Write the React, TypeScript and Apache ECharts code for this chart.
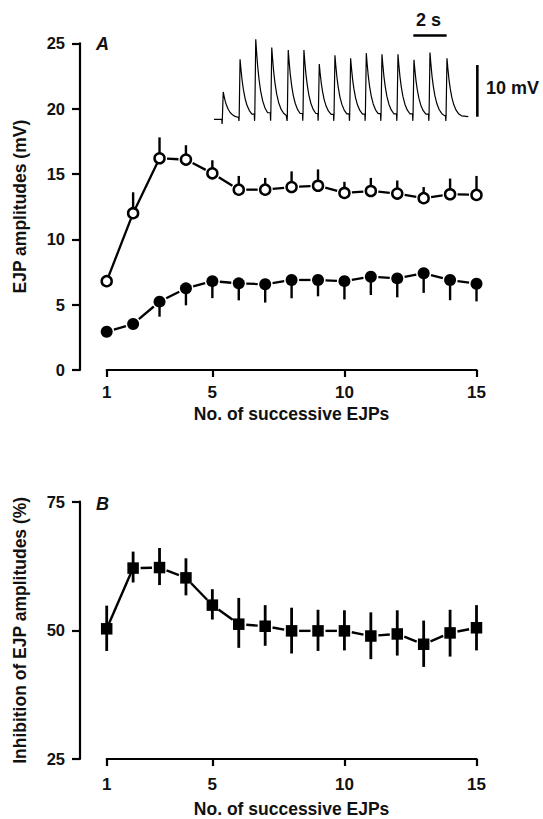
import React, { useEffect, useRef } from "react";
import * as echarts from "echarts";

// ---------- data ----------
const pulseNumbers = [1, 2, 3, 4, 5, 6, 7, 8, 9, 10, 11, 12, 13, 14, 15];
const xTickValues = [1, 5, 10, 15];

// Panel A: EJP amplitudes (mV)
const openMean = [6.8, 12.0, 16.2, 16.1, 15.05, 13.8, 13.8, 14.0, 14.1, 13.55, 13.7, 13.5, 13.15, 13.45, 13.4];
const openSem = [0.3, 1.6, 1.6, 1.1, 1.0, 1.05, 0.9, 1.2, 1.25, 0.85, 1.0, 1.0, 0.85, 1.2, 1.45];
const filledMean = [2.93, 3.52, 5.23, 6.25, 6.8, 6.63, 6.56, 6.89, 6.89, 6.8, 7.14, 7.01, 7.4, 6.89, 6.6];
const filledSem = [0.2, 0.3, 1.15, 1.3, 1.3, 1.3, 1.4, 1.4, 1.25, 1.4, 1.4, 1.45, 1.5, 1.55, 1.35];
const aYTicks = [0, 25, 5]; // min, max, interval

// Panel B: inhibition (%)
const inhibMean = [50.3, 62.1, 62.2, 60.2, 54.9, 51.2, 50.8, 49.9, 49.9, 49.9, 48.9, 49.3, 47.3, 49.5, 50.5];
const inhibUpper = [54.8, 65.3, 66.0, 64.0, 58.0, 56.3, 54.9, 54.4, 54.0, 53.9, 53.5, 53.9, 51.9, 54.0, 54.9];
const inhibLower = [46.0, 59.3, 58.8, 56.8, 52.1, 46.6, 47.0, 45.5, 46.0, 46.1, 44.4, 45.1, 42.9, 44.9, 46.1];
const bYTicks = [25, 75, 25];

// Inset trace (s, mV)
const spikePeakTimes = [0.56, 1.58, 2.53, 3.5, 4.5, 5.45, 6.38, 7.33, 8.28, 9.23, 10.18, 11.15, 12.12, 13.09, 14.12];
const spikeAmps = [5.1, 11.4, 15.3, 13.7, 13.2, 13.2, 10.5, 12.2, 11.6, 12.6, 12.4, 12.4, 11.3, 12.7, 11.6];
const decayOffsets = [0.05, 0.12, 0.2, 0.3, 0.42, 0.56, 0.72, 0.88];
const decayFractions = [0.84, 0.65, 0.49, 0.34, 0.22, 0.13, 0.07, 0.04];
const traceStartEnd = [0, 15.41];
const timeBar = [12.08, 14.1, 16.0]; // start, end, level (mV)
const voltBar = [15.96, 0.3, 10.3]; // time, bottom, top

// ---------- build helpers ----------
function buildTrace(): number[][] {
  const pts: number[][] = [[traceStartEnd[0], -0.2]];
  spikePeakTimes.forEach((t, i) => {
    const onset = t - 0.07;
    const prev = pts[pts.length - 1][1];
    pts.push([onset - 0.02, prev]);
    pts.push([onset, i === 0 ? -1.1 : -0.5]);
    pts.push([onset + 0.015, prev]);
    pts.push([t, spikeAmps[i]]);
    const next = i < spikePeakTimes.length - 1 ? spikePeakTimes[i + 1] - 0.1 : traceStartEnd[1];
    decayOffsets.forEach((o, k) => {
      if (t + o < next) pts.push([t + o, spikeAmps[i] * decayFractions[k]]);
    });
  });
  pts.push([traceStartEnd[1], 0.3]);
  return pts;
}

const FONT = "'Liberation Sans', Arial, Helvetica, sans-serif";

function errorBarSeries(x: number, y: number, data: number[][], width: number) {
  return {
    type: "custom",
    xAxisIndex: x,
    yAxisIndex: y,
    clip: false,
    z: 2,
    data,
    encode: { x: 0, y: [1, 2] },
    renderItem: (_p: any, api: any) => {
      const a = api.coord([api.value(0), api.value(1)]);
      const b = api.coord([api.value(0), api.value(2)]);
      return {
        type: "line",
        shape: { x1: a[0], y1: a[1], x2: b[0], y2: b[1] },
        style: { stroke: "#000", lineWidth: width },
      };
    },
  };
}

function connectorSeries(x: number, y: number, means: number[], solid: number[], width: number) {
  const data = means.slice(0, -1).map((m, i) => [
    pulseNumbers[i],
    m,
    pulseNumbers[i + 1],
    means[i + 1],
    solid.indexOf(i) >= 0 ? 0 : 7.5,
  ]);
  return {
    type: "custom",
    xAxisIndex: x,
    yAxisIndex: y,
    clip: false,
    z: 1,
    data,
    encode: { x: [0, 2], y: [1, 3] },
    renderItem: (_p: any, api: any) => {
      const a = api.coord([api.value(0), api.value(1)]);
      const b = api.coord([api.value(2), api.value(3)]);
      const g = api.value(4);
      const dx = b[0] - a[0];
      const dy = b[1] - a[1];
      const len = Math.sqrt(dx * dx + dy * dy) || 1;
      const ux = dx / len;
      const uy = dy / len;
      return {
        type: "line",
        shape: { x1: a[0] + ux * g, y1: a[1] + uy * g, x2: b[0] - ux * g, y2: b[1] - uy * g },
        style: { stroke: "#000", lineWidth: width },
      };
    },
  };
}

function xAxisCfg(grid: number, labelMargin: number, nameGap: number) {
  return {
    gridIndex: grid,
    type: "value",
    min: pulseNumbers[0],
    max: pulseNumbers[pulseNumbers.length - 1],
    position: "bottom",
    name: "No. of successive EJPs",
    nameLocation: "middle",
    nameGap,
    nameTextStyle: { fontFamily: FONT, fontSize: 17.5, fontWeight: "bold", color: "#111" },
    axisLine: { show: true, onZero: false, lineStyle: { color: "#000", width: 2.2 } },
    axisTick: { show: true, length: 7, customValues: xTickValues, lineStyle: { color: "#000", width: 2.2 } },
    axisLabel: { customValues: xTickValues, margin: labelMargin, fontFamily: FONT, fontSize: 17, fontWeight: "bold", color: "#111" },
    splitLine: { show: false },
  };
}

function yAxisCfg(grid: number, ticks: number[], name: string, nameGap: number) {
  return {
    gridIndex: grid,
    type: "value",
    min: ticks[0],
    max: ticks[1],
    interval: ticks[2],
    offset: 26.7,
    name,
    nameLocation: "middle",
    nameGap,
    nameRotate: 90,
    nameTextStyle: { fontFamily: FONT, fontSize: 17.5, fontWeight: "bold", color: "#111" },
    axisLine: { show: true, lineStyle: { color: "#000", width: 2.2 } },
    axisTick: { show: true, length: 8, lineStyle: { color: "#000", width: 2.2 } },
    axisLabel: { margin: 15, fontFamily: FONT, fontSize: 16.5, fontWeight: "bold", color: "#111" },
    splitLine: { show: false },
  };
}

export default function App() {
  const ref = useRef<HTMLDivElement>(null);
  useEffect(() => {
    if (!ref.current) return;
    const chart = echarts.init(ref.current, undefined, { renderer: "svg" });
    const option: any = {
      animation: false,
      backgroundColor: "#fff",
      grid: [
        { left: 106.7, right: 66.5, top: 43.3, height: 326.7 },
        { left: 106.7, right: 66.5, top: 501.7, height: 261.6 },
        { left: 214, width: 264, top: 14.9, height: 113.7 },
      ],
      xAxis: [
        xAxisCfg(0, 14, 35),
        xAxisCfg(1, 17, 41),
        { gridIndex: 2, type: "value", min: 0, max: 16, show: false },
      ],
      yAxis: [
        yAxisCfg(0, aYTicks, "EJP amplitudes (mV)", 51),
        yAxisCfg(1, bYTicks, "Inhibition of EJP amplitudes (%)", 51),
        { gridIndex: 2, type: "value", min: -2, max: 20, show: false },
      ],
      series: [
        // Panel A connectors
        connectorSeries(0, 0, openMean, [0, 1], 2.3),
        connectorSeries(0, 0, filledMean, [], 2.3),
        // Panel A error bars
        errorBarSeries(0, 0, pulseNumbers.map((n, i) => [n, openMean[i], openMean[i] + openSem[i]]), 2.4),
        errorBarSeries(0, 0, pulseNumbers.map((n, i) => [n, filledMean[i], filledMean[i] - filledSem[i]]), 2.4),
        {
          type: "scatter",
          xAxisIndex: 0,
          yAxisIndex: 0,
          z: 5,
          symbol: "circle",
          symbolSize: 10,
          itemStyle: { color: "#fff", borderColor: "#000", borderWidth: 2.5, opacity: 1 },
          data: pulseNumbers.map((n, i) => [n, openMean[i]]),
        },
        {
          type: "scatter",
          xAxisIndex: 0,
          yAxisIndex: 0,
          z: 5,
          symbol: "circle",
          symbolSize: 12,
          itemStyle: { color: "#000", opacity: 1 },
          data: pulseNumbers.map((n, i) => [n, filledMean[i]]),
        },
        // Panel B
        connectorSeries(1, 1, inhibMean, [0], 2.4),
        errorBarSeries(1, 1, pulseNumbers.map((n, i) => [n, inhibLower[i], inhibUpper[i]]), 2.8),
        {
          type: "scatter",
          xAxisIndex: 1,
          yAxisIndex: 1,
          z: 5,
          symbol: "rect",
          symbolSize: 11.5,
          itemStyle: { color: "#000", opacity: 1 },
          data: pulseNumbers.map((n, i) => [n, inhibMean[i]]),
        },
        // Inset trace
        {
          type: "line",
          xAxisIndex: 2,
          yAxisIndex: 2,
          showSymbol: false,
          symbol: "none",
          smooth: false,
          clip: false,
          lineStyle: { color: "#000", width: 1.2 },
          data: buildTrace(),
        },
        {
          type: "line",
          xAxisIndex: 2,
          yAxisIndex: 2,
          symbol: "none",
          clip: false,
          lineStyle: { color: "#000", width: 2.6 },
          data: [[timeBar[0], timeBar[2]], [timeBar[1], timeBar[2]]],
        },
        {
          type: "line",
          xAxisIndex: 2,
          yAxisIndex: 2,
          symbol: "none",
          clip: false,
          lineStyle: { color: "#000", width: 2.6 },
          data: [[voltBar[0], voltBar[1]], [voltBar[0], voltBar[2]]],
        },
      ],
      graphic: [
        { type: "text", x: 96, y: 44, style: { text: "A", fontFamily: FONT, fontSize: 18, fontWeight: "bold", fontStyle: "italic", fill: "#111", verticalAlign: "middle" } },
        { type: "text", x: 96, y: 504, style: { text: "B", fontFamily: FONT, fontSize: 18, fontWeight: "bold", fontStyle: "italic", fill: "#111", verticalAlign: "middle" } },
        { type: "text", x: 428.5, y: 20, style: { text: "2 s", fontFamily: FONT, fontSize: 18, fontWeight: "bold", fill: "#111", align: "center", verticalAlign: "middle" } },
        { type: "text", x: 486, y: 88, style: { text: "10 mV", fontFamily: FONT, fontSize: 18, fontWeight: "bold", fill: "#111", verticalAlign: "middle" } },
      ],
    };
    chart.setOption(option);
    return () => chart.dispose();
  }, []);
  return <div ref={ref} style={{ position: "fixed", left: 0, top: 0, width: 543, height: 819, background: "#fff" }} />;
}
